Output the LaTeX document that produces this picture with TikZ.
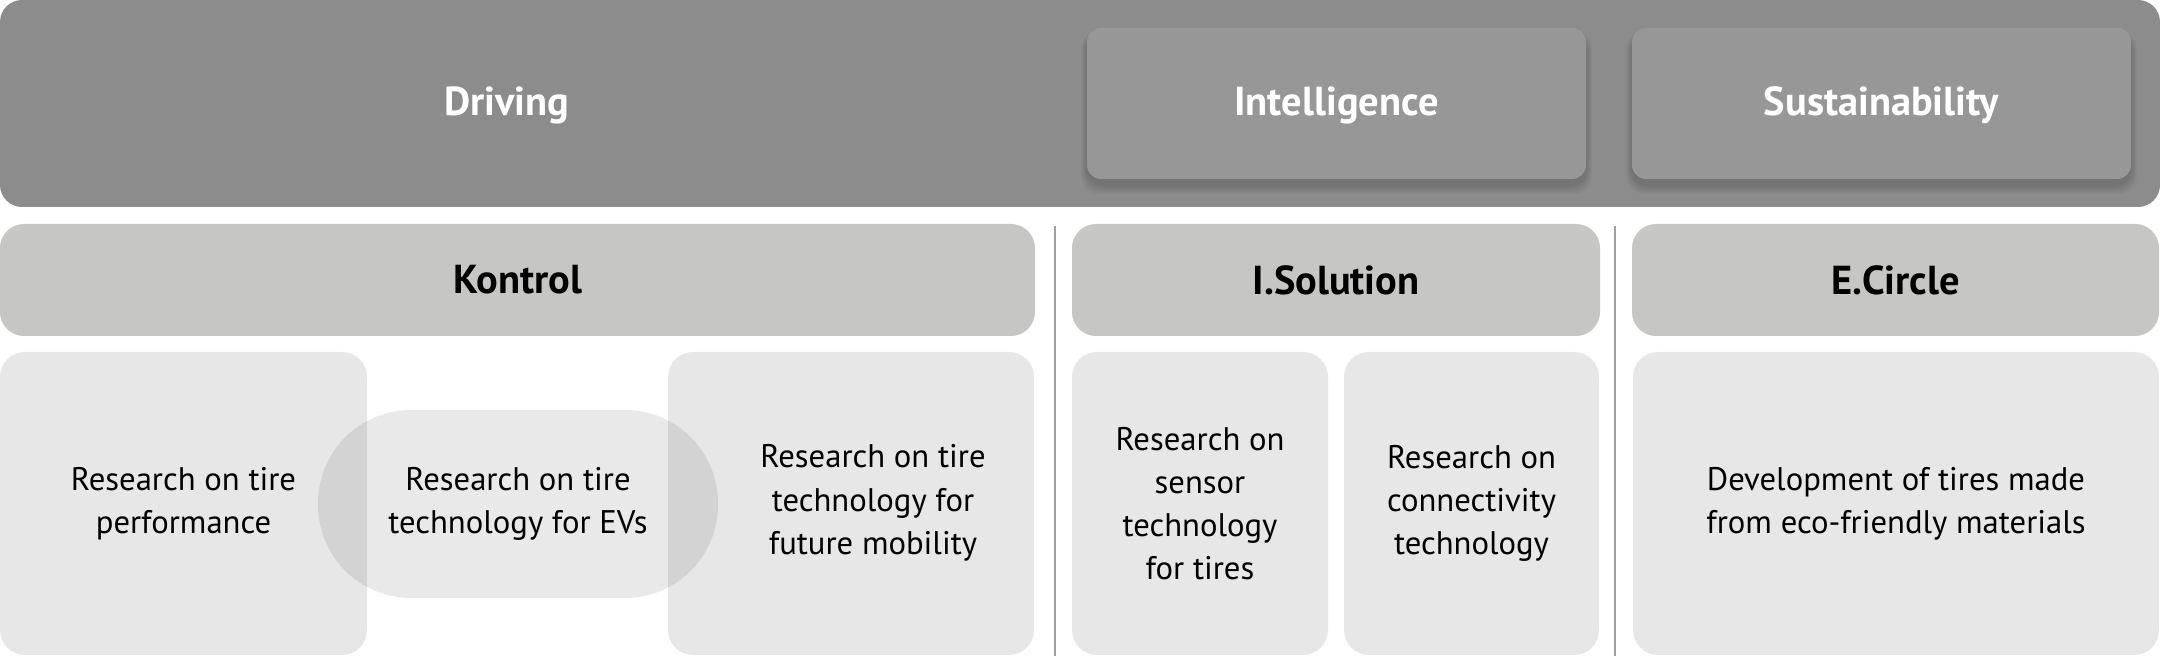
\documentclass[tikz,border=0pt]{standalone}
\usepackage{fontspec}
\setmainfont{PT Sans}
\usetikzlibrary{positioning}
\definecolor{bandgray}{HTML}{8C8C8C}
\definecolor{innergray}{HTML}{979797}
\definecolor{midgray}{HTML}{C6C6C5}
\definecolor{lightgray}{HTML}{E7E7E7}
\definecolor{linegray}{HTML}{A0A0A0}
\tikzset{
  band/.style={rectangle, rounded corners=2.2mm, fill=bandgray, inner sep=0pt},
  pillar/.style={rectangle, rounded corners=1.4mm, fill=innergray, inner sep=0pt},
  headtxt/.style={text=white, font=\fontsize{11.5}{14}\selectfont\bfseries},
  brand/.style={rectangle, rounded corners=2.4mm, fill=midgray, inner sep=0pt,
    text=black, font=\fontsize{11.5}{14}\selectfont\bfseries, minimum height=11.2mm},
  item/.style={rectangle, rounded corners=2.5mm, fill=lightgray, inner sep=0pt,
    minimum height=30.3mm, align=center, font=\fontsize{9.3}{12.3}\selectfont},
  itemtxt/.style={align=center, font=\fontsize{9.3}{12.3}\selectfont},
  stadium/.style={rectangle, rounded corners=9.3mm, fill=black, fill opacity=0.085,
    text opacity=1, inner sep=0pt, minimum width=40mm, minimum height=18.8mm,
    align=center, font=\fontsize{9.3}{12.3}\selectfont},
  divider/.style={draw=linegray, line width=0.35pt},
  shadowlayer/.style={rectangle, rounded corners=1.8mm, fill=black, fill opacity=0.02, inner sep=0pt}
}
\begin{document}
\begin{tikzpicture}[x=0.1mm,y=-0.1mm]
\useasboundingbox (0,0) rectangle (2160,656);
% top band
\node[band, minimum width=216mm, minimum height=20.7mm] (top) at (1080,103.5) {};
\node[headtxt] (driving) at (507,105) {Driving};
% soft shadows of the inner boxes (mostly below)
\foreach \s in {1,...,8}{
  \node[shadowlayer, minimum width={49.9mm+\s*0.15mm}, minimum height={15.1mm+\s*0.15mm}] at (1336.5,{103.5+6+\s*0.4}) {};
  \node[shadowlayer, minimum width={49.9mm+\s*0.15mm}, minimum height={15.1mm+\s*0.15mm}] at (1881.5,{103.5+6+\s*0.4}) {};
}
\node[pillar, minimum width=49.9mm, minimum height=15.1mm] (intel) at (1336.5,103.5) {};
\node[pillar, minimum width=49.9mm, minimum height=15.1mm] (sust) at (1881.5,103.5) {};
\node[headtxt] (inteltxt) at (1336.5,105) {Intelligence};
\node[headtxt] (susttxt) at (1881.5,105) {Sustainability};
% dividers
\coordinate (d1t) at (1055,226); \coordinate (d1b) at (1055,656);
\coordinate (d2t) at (1615,226); \coordinate (d2b) at (1615,656);
\draw[divider] (d1t) -- (d1b);
\draw[divider] (d2t) -- (d2b);
% second row
\node[brand, minimum width=103.5mm] (kontrol) at (517.5,280) {Kontrol};
\node[brand, minimum width=52.8mm] (isol) at (1336,280) {I.Solution};
\node[brand, minimum width=52.7mm] (ecirc) at (1895.5,280) {E.Circle};
% third row
\node[item, minimum width=36.7mm] (perf) at (183.5,503.5) {Research on tire\\performance};
\node[item, minimum width=36.6mm] (fut) at (851,503.5) {};
\node[itemtxt] (futtxt) at (873,503) {Research on tire\\technology for\\future mobility};
\node[stadium] (ev) at (518,504) {Research on tire\\technology for EVs};
\node[item, minimum width=25.6mm] (sensor) at (1200,503.5) {Research on\\sensor\\technology\\for tires};
\node[item, minimum width=25.5mm] (conn) at (1471.5,503.5) {Research on\\connectivity\\technology};
\node[item, minimum width=52.6mm] (eco) at (1896,503.5) {Development of tires made\\from eco-friendly materials};
\end{tikzpicture}
\end{document}
